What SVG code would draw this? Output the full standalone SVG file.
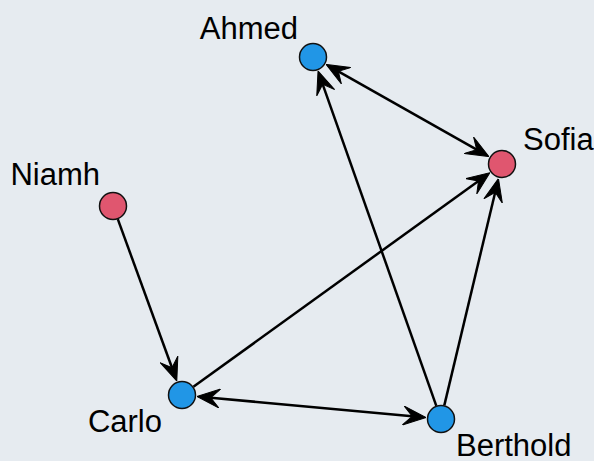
<svg xmlns="http://www.w3.org/2000/svg" width="594" height="461" viewBox="0 0 594 461">
<defs>
<style>
.bg{fill:#e6ebf0}
.edge{stroke:#000;stroke-width:2.5;fill:none}
.node{stroke:#111;stroke-width:1.5}
.blue{fill:#2196e6}
.red{fill:#e0566f}
.lbl{font-family:"Liberation Sans",Arial,sans-serif;font-size:31px;fill:#000}
</style>
<marker id="arr" viewBox="0 -10 23 20" markerWidth="23" markerHeight="20" refX="9" refY="0" orient="auto-start-reverse" markerUnits="userSpaceOnUse">
<path d="M0,-9.5 L23,0 L0,9.5 L9,0 Z" fill="#000" stroke="#000" stroke-width="1" stroke-linejoin="miter"/>
</marker>
</defs>
<rect class="bg" x="0" y="0" width="594" height="461"/>
<g id="connectors">
<line class="edge" x1="117.8" y1="219.1" x2="172.0" y2="367.8" marker-end="url(#arr)"/>
<line class="edge" x1="193.4" y1="386.8" x2="478.5" y2="181.0" marker-end="url(#arr)"/>
<line class="edge" x1="210.8" y1="397.7" x2="412.2" y2="416.3" marker-start="url(#arr)" marker-end="url(#arr)"/>
<line class="edge" x1="436.3" y1="405.8" x2="322.7" y2="84.3" marker-end="url(#arr)"/>
<line class="edge" x1="444.3" y1="405.4" x2="495.2" y2="192.2" marker-end="url(#arr)"/>
<line class="edge" x1="338.3" y1="71.3" x2="476.7" y2="149.7" marker-start="url(#arr)" marker-end="url(#arr)"/>
</g>
<g id="node-ahmed">
<circle class="node blue" cx="313" cy="57" r="13.5"/>
<text class="lbl" x="298" y="38.5" text-anchor="end">Ahmed</text>
</g>
<g id="node-sofia">
<circle class="node red" cx="502" cy="164" r="13.5"/>
<text class="lbl" x="523" y="149.5">Sofia</text>
</g>
<g id="node-niamh">
<circle class="node red" cx="113" cy="206" r="13.5"/>
<text class="lbl" x="100" y="184.5" text-anchor="end">Niamh</text>
</g>
<g id="node-carlo">
<circle class="node blue" cx="182" cy="395" r="13.5"/>
<text class="lbl" x="162" y="431.5" text-anchor="end">Carlo</text>
</g>
<g id="node-berthold">
<circle class="node blue" cx="441" cy="419" r="13.5"/>
<text class="lbl" x="456" y="455.5">Berthold</text>
</g>
</svg>
